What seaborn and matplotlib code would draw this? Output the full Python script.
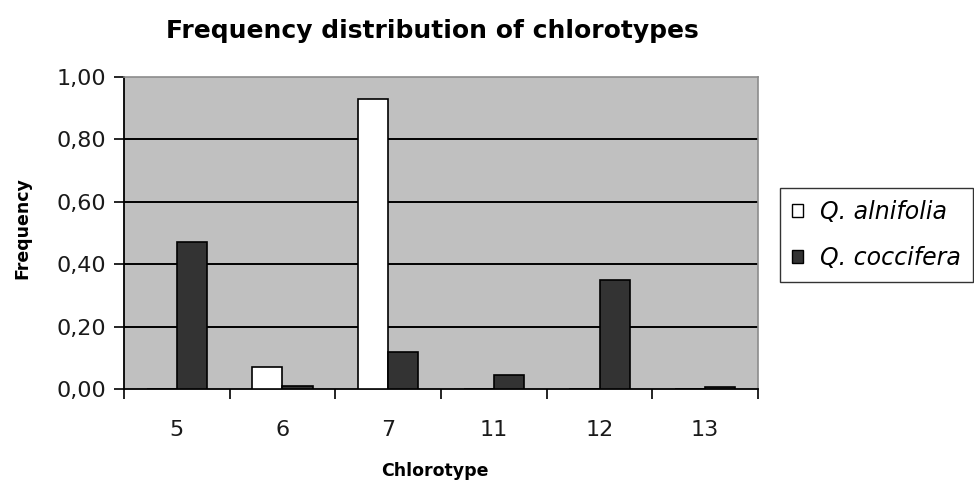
import pandas as pd
import numpy as np
import matplotlib
matplotlib.use("Agg")
import matplotlib.pyplot as plt
import seaborn as sns

# Data
chlorotypes = ["5", "6", "7", "11", "12", "13"]
alnifolia = [0.0, 0.07, 0.93, 0.0, 0.0, 0.0]
coccifera = [0.47, 0.01, 0.12, 0.045, 0.35, 0.006]
species = ["Q. alnifolia", "Q. coccifera"]
yticks = [0.0, 0.2, 0.4, 0.6, 0.8, 1.0]
ytick_labels = [f"{v:.2f}".replace(".", ",") for v in yticks]

df = pd.DataFrame({
    "Chlorotype": chlorotypes * 2,
    "Frequency": alnifolia + coccifera,
    "Species": [species[0]] * len(chlorotypes) + [species[1]] * len(chlorotypes),
})

sns.set_style("white")
plt.rcParams["font.family"] = ["DejaVu Sans"]
plt.rcParams["text.color"] = "black"

fig = plt.figure(figsize=(9.74, 4.9), dpi=100)
ax = fig.add_axes([124 / 974, 1 - 389.3 / 490, 634 / 974, 312.6 / 490])

sns.barplot(data=df, x="Chlorotype", y="Frequency", hue="Species",
            order=chlorotypes, hue_order=species,
            palette={species[0]: "white", species[1]: "#333333"},
            edgecolor="black", linewidth=1.2, width=0.5714, gap=0,
            saturation=1, ax=ax, zorder=3)

ax.set_facecolor("#c0c0c0")
ax.set_xlim(-0.5, len(chlorotypes) - 0.5)
ax.set_ylim(0, 1.0)

# gridlines between the bottom axis and the top border
for y in yticks[1:-1]:
    ax.axhline(y, color="black", lw=1.4, zorder=1)

ax.set_yticks(yticks)
ax.set_yticklabels(ytick_labels, fontsize=16, color="#1a1a1a")
ax.tick_params(axis="y", direction="out", length=7, width=1.2, color="black", pad=6, left=True)

# category labels centred, tick marks between categories
ax.set_xticks(range(len(chlorotypes)))
ax.set_xticklabels(chlorotypes, fontsize=16, color="#1a1a1a")
ax.set_xticks(np.arange(-0.5, len(chlorotypes)), minor=True)
ax.tick_params(axis="x", which="major", length=0, pad=22)
ax.tick_params(axis="x", which="minor", direction="out", length=7, width=1.2, color="black", bottom=True)

for side in ["left", "bottom"]:
    ax.spines[side].set_color("black")
    ax.spines[side].set_linewidth(1.3)
for side in ["top", "right"]:
    ax.spines[side].set_color("#8c8c8c")
    ax.spines[side].set_linewidth(1.2)

ax.set_xlabel("Chlorotype", fontsize=12.5, fontweight="bold", color="black")
ax.set_ylabel("Frequency", fontsize=12.5, fontweight="bold", color="black")
ax.xaxis.set_label_coords(0.4905, -0.233)
ax.yaxis.set_label_coords(-0.146, 0.516)
fig.text(432 / 974, 1 - 31 / 490, "Frequency distribution of chlorotypes",
         ha="center", va="center", fontsize=18, fontweight="bold", color="black")

leg = ax.legend(loc="upper left", bbox_to_anchor=(1.035, 0.644), borderaxespad=0,
                frameon=True, fancybox=False, handlelength=0.48,
                handleheight=0.48, handletextpad=0.7, labelspacing=0.95,
                borderpad=0.5, prop={"style": "italic", "size": 17})
leg.get_frame().set_edgecolor("black")
leg.get_frame().set_linewidth(1.0)
for h in leg.legend_handles:
    h.set_edgecolor("black")
    h.set_linewidth(1.0)

fig.savefig("out.png", dpi=100)
